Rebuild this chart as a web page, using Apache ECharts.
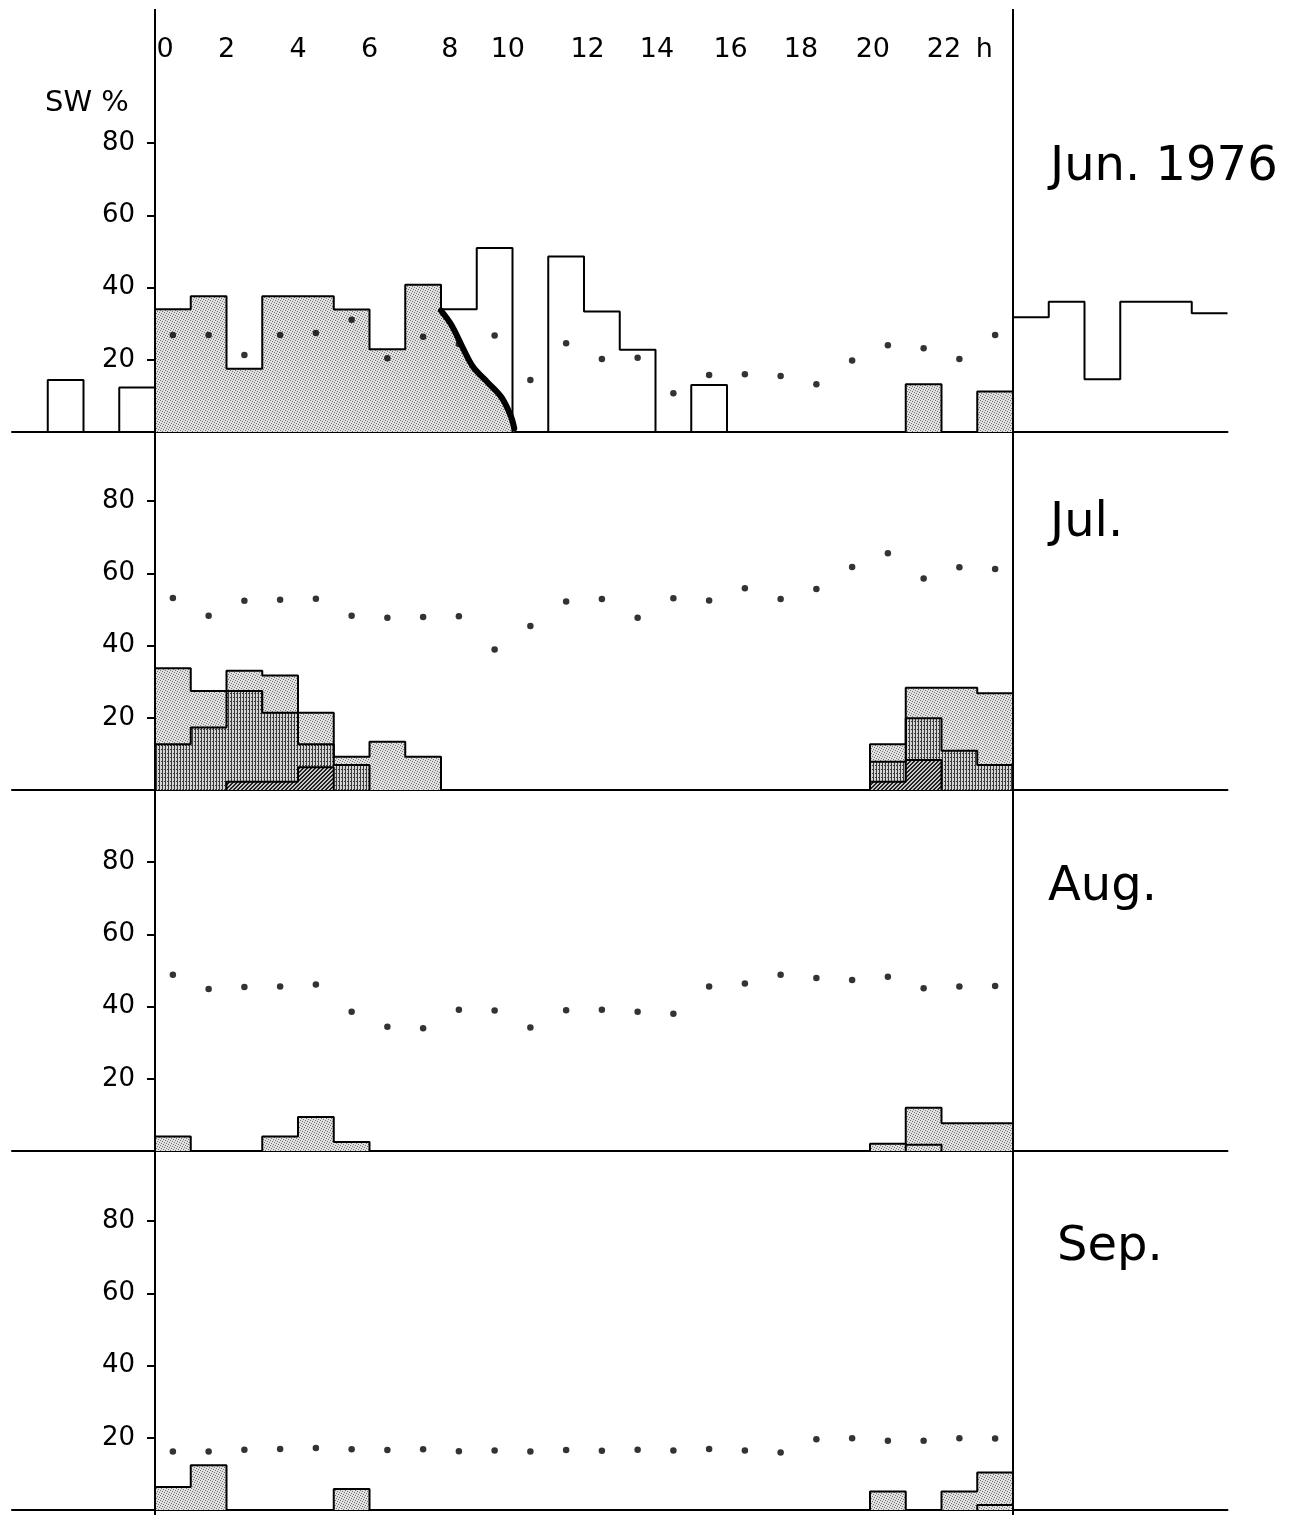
<!DOCTYPE html>
<html><head><meta charset="utf-8">
<script src="https://cdn.jsdelivr.net/npm/echarts@6/dist/echarts.min.js"></script>
<style>html,body{margin:0;padding:0;background:#fff}#c{width:1300px;height:1515px}</style>
</head><body><div id="c"></div>
<script>
// ---------------- DATA ----------------
const hours = [0,1,2,3,4,5,6,7,8,9,10,11,12,13,14,15,16,17,18,19,20,21,22,23];
const hourTickPos = [0.28,2,4,6,8.25,9.87,12.1,14.04,16.1,18.07,20.08,22.07,23.2];
const hourTickLabels = ['0','2','4','6','8','10','12','14','16','18','20','22','h'];
const yTickValues = [20,40,60,80];
const monthLabels = ['Jun. 1976','Jul.','Aug.','Sep.'];
const yAxisTitle = 'SW %';

// Jun. 1976
const junShadedEdges = [0,1,2,3,4,5,6,7,8];
const junShadedValues = [34,37.6,17.5,37.6,37.6,33.9,22.9,40.8];
const junDecline = [[8,33.6],[8.3,29.5],[8.6,23.5],[8.9,18],[9.3,13.8],[9.7,9.5],[9.95,4.5],[10.05,1]];
const junOpenEdges = [[-3,-2],[-1,0],[8,9,10],[11,12,13,14],[15,16]];
const junOpenValues = [[14.4],[12.3],[34,51],[48.6,33.4,22.8],[13]];
const junOpenLeftClosed = [true,true,false,true,true];
const junLateEdges = [[21,22],[23,24]];
const junLateValues = [[13.2],[11.2]];
const junNextEdges = [24,25,26,27,28,29,30];
const junNextValues = [31.8,36.1,14.6,36.1,36.1,32.9];
const junMean = [26.9,26.9,21.3,26.9,27.4,31.1,20.4,26.4,24.4,26.7,14.4,24.6,20.2,20.6,10.7,15.8,16.0,15.5,13.2,19.8,24.0,23.2,20.2,26.9];

// Jul.
const julLightEdges = [[0,1,2,3,4,5,6,7,8],[20,21,22,23,24]];
const julLightValues = [[33.7,27.4,33.0,31.7,21.4,9.2,13.4,9.2],[12.7,28.3,28.3,26.8]];
const julMidEdges = [[0,1,2,3,4,5,6],[20,21,22,23,24]];
const julMidValues = [[12.7,17.3,27.4,21.4,12.7,6.9],[7.8,19.9,10.9,6.9]];
const julDarkEdges = [[2,3,4,5],[20,21,22]];
const julDarkValues = [[2.3,2.3,6.3],[2.3,8.3]];
const julMean = [53.2,48.3,52.4,52.7,53.0,48.3,47.7,47.9,48.1,38.9,45.4,52.2,52.9,47.7,53.1,52.5,55.9,52.9,55.7,61.8,65.6,58.6,61.7,61.2];

// Aug.
const augLightEdges = [[0,1],[3,4,5,6],[20,21,22,23,24]];
const augLightValues = [[4.0],[4.0,9.4,2.5],[2.0,12.0,7.7,7.7]];
const augMidEdges = [[21,22]];
const augMidValues = [[1.7]];
const augMean = [48.8,44.9,45.4,45.6,46.1,38.6,34.4,34.0,39.1,38.9,34.2,39.0,39.1,38.6,38.0,45.6,46.4,48.8,47.9,47.4,48.3,45.1,45.6,45.7];

// Sep.
const sepLightEdges = [[0,1,2],[5,6],[20,21],[22,23,24]];
const sepLightValues = [[6.4,12.4],[5.8],[5.1],[5.1,10.4]];
const sepMidEdges = [[23,24]];
const sepMidValues = [[1.4]];
const sepMean = [16.2,16.2,16.7,16.9,17.2,16.8,16.6,16.8,16.3,16.5,16.2,16.6,16.4,16.7,16.5,16.9,16.5,15.9,19.6,19.9,19.2,19.2,19.9,19.8];

// ---------------- STYLE / LAYOUT ----------------
const FONT = 'DejaVu Sans';
const PANEL_TOP = [71, 429, 790, 1149];
const PANEL_H = 361;
const GRID_LEFT = 12, GRID_W = 1215.5;
const X_MIN = -4, X_MAX = 30;
const Y_AXIS_OFFSET = -143; // moves the y axis from the grid edge to hour 0

function tile(w, h, bg, dark, pixels) {
  const c = document.createElement('canvas'); c.width = w; c.height = h;
  const g = c.getContext('2d'); g.fillStyle = bg; g.fillRect(0, 0, w, h);
  g.fillStyle = dark; pixels.forEach(p => g.fillRect(p[0], p[1], 1, 1));
  return { image: c, repeat: 'repeat' };
}
const STIPPLE = tile(5, 5, '#e0e0e0', '#727272', [[0,0],[2,1],[4,2],[1,3],[3,4]]);
const vpix = []; for (let y = 0; y < 4; y++) { vpix.push([0, y]); }
vpix.push([2, 1]);
const VHATCH = tile(3, 4, '#d4d4d4', '#3a3a3a', vpix);
const dpix = []; for (let x = 0; x < 4; x++) for (let y = 0; y < 4; y++) { if ((x + y) % 4 === 3 || (x + y) % 4 === 2) dpix.push([x, y]); }
const DHATCH = tile(4, 4, '#c8c8c8', '#202020', dpix);

function stepSeries(gi, edges, values, fill, closeLeft, closeRight) {
  const pts = [];
  if (closeLeft !== false) pts.push([edges[0], 0]);
  for (let i = 0; i < values.length; i++) pts.push([edges[i], values[i]]);
  if (closeRight !== false) pts.push([edges[edges.length - 1], 0]);
  else pts.push([edges[edges.length - 1], values[values.length - 1]]);
  const s = {
    type: 'line', xAxisIndex: gi, yAxisIndex: gi, step: 'end', data: pts,
    symbol: 'none', showSymbol: false, silent: true, animation: false,
    lineStyle: { color: '#000', width: 2 }
  };
  if (fill) s.areaStyle = { color: fill, opacity: 1 };
  return s;
}
function runs(gi, edgesList, valuesList, fill, leftClosed) {
  return edgesList.map((e, k) => stepSeries(gi, e, valuesList[k], fill, leftClosed ? leftClosed[k] : true, true));
}
function meanSeries(gi, vals) {
  return {
    type: 'scatter', xAxisIndex: gi, yAxisIndex: gi, symbol: 'circle', symbolSize: 6.5,
    itemStyle: { color: '#000' }, silent: true, animation: false, z: 5,
    data: hours.map((h, i) => [h + 0.5, vals[i]])
  };
}

const grids = [], xAxes = [], yAxes = [];
for (let i = 0; i < 4; i++) {
  grids.push({ left: GRID_LEFT, width: GRID_W, top: PANEL_TOP[i], height: PANEL_H, outerBoundsMode: 'none', containLabel: false });
  xAxes.push({
    type: 'value', gridIndex: i, min: X_MIN, max: X_MAX,
    axisLine: { show: true, onZero: false, lineStyle: { color: '#000', width: 2 } },
    axisTick: { show: false }, axisLabel: { show: false }, splitLine: { show: false }
  });
  yAxes.push({
    type: 'value', gridIndex: i, min: 0, max: 100, position: 'left', offset: Y_AXIS_OFFSET,
    axisLine: { show: false, onZero: false },
    axisTick: { show: true, inside: false, length: 8, customValues: yTickValues, lineStyle: { color: '#000', width: 2 } },
    axisLabel: { show: true, customValues: yTickValues, margin: 20, color: '#000', fontSize: 26, fontFamily: FONT },
    splitLine: { show: false }
  });
}
// frame grid (vertical lines + hour labels)
grids.push({ left: GRID_LEFT, width: GRID_W, top: 9, bottom: 0, outerBoundsMode: 'none', containLabel: false });
xAxes.push({
  type: 'value', gridIndex: 4, min: X_MIN, max: X_MAX, position: 'top',
  axisLine: { show: false }, axisTick: { show: false }, splitLine: { show: false },
  axisLabel: {
    show: true, inside: true, margin: 27, customValues: hourTickPos,
    color: '#000', fontSize: 27, fontFamily: FONT,
    formatter: v => {
      let best = 0, bd = 1e9;
      hourTickPos.forEach((p, i) => { const d = Math.abs(p - v); if (d < bd) { bd = d; best = i; } });
      return hourTickLabels[best];
    }
  }
});
yAxes.push({ type: 'value', gridIndex: 4, min: 0, max: 1, show: false });

let series = [];
// Jun
series = series.concat(runs(0, junOpenEdges, junOpenValues, null, junOpenLeftClosed));
series.push(stepSeries(0, junShadedEdges.concat([8]), junShadedValues.concat([junDecline[0][1]]), STIPPLE, true, false));
series.push({
  type: 'line', xAxisIndex: 0, yAxisIndex: 0, data: junDecline, smooth: 0.35,
  symbol: 'none', showSymbol: false, silent: true, animation: false,
  lineStyle: { color: '#000', width: 6, cap: 'round', join: 'round' }, areaStyle: { color: STIPPLE, opacity: 1 }, z: 3
});
series = series.concat(runs(0, junLateEdges, junLateValues, STIPPLE));
series.push(stepSeries(0, junNextEdges, junNextValues, null, false, false));
series.push(meanSeries(0, junMean));
// Jul
series = series.concat(runs(1, julLightEdges, julLightValues, STIPPLE));
series = series.concat(runs(1, julMidEdges, julMidValues, VHATCH));
series = series.concat(runs(1, julDarkEdges, julDarkValues, DHATCH));
series.push(meanSeries(1, julMean));
// Aug
series = series.concat(runs(2, augLightEdges, augLightValues, STIPPLE));
series = series.concat(runs(2, augMidEdges, augMidValues, STIPPLE));
series.push(meanSeries(2, augMean));
// Sep
series = series.concat(runs(3, sepLightEdges, sepLightValues, STIPPLE));
series = series.concat(runs(3, sepMidEdges, sepMidValues, STIPPLE));
series.push(meanSeries(3, sepMean));
// frame lines
series.push({
  type: 'scatter', xAxisIndex: 4, yAxisIndex: 4, data: [], silent: true, animation: false, z: 10,
  markLine: {
    silent: true, symbol: ['none', 'none'], animation: false, label: { show: false },
    lineStyle: { color: '#000', width: 2, type: 'solid' },
    data: [{ xAxis: 0 }, { xAxis: 24 }]
  }
});

const titleTops = [144, 500, 864, 1224];
const titleLefts = [1050, 1050, 1048, 1057];
const titles = monthLabels.map((t, i) => ({
  text: t, left: titleLefts[i], top: titleTops[i], padding: 0,
  textStyle: { fontFamily: FONT, fontSize: 48, fontWeight: 'normal', color: '#000' }
}));
titles.push({ text: yAxisTitle, left: 45, top: 89, padding: 0,
  textStyle: { fontFamily: FONT, fontSize: 29, fontWeight: 'normal', color: '#000' } });

const chart = echarts.init(document.getElementById('c'), null, { renderer: 'canvas' });
chart.setOption({
  backgroundColor: '#fff', animation: false,
  title: titles, grid: grids, xAxis: xAxes, yAxis: yAxes, series: series
});
</script></body></html>
